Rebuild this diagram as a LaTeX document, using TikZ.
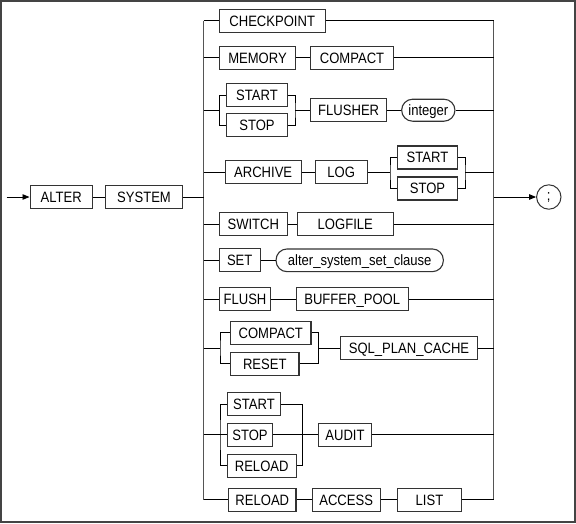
\documentclass[tikz,border=0pt]{standalone}
\usepackage{fontspec}
\setmainfont{Liberation Sans}[FakeStretch=0.87]
\usetikzlibrary{arrows.meta}
\definecolor{boxc}{HTML}{333333}
\definecolor{railc}{HTML}{555555}
\definecolor{borderc}{HTML}{444444}
\tikzset{
  kw/.style={draw=boxc, line width=1.1pt, rectangle, minimum height=23pt, inner sep=0pt,
    text height=10.7pt, text depth=0pt, font=\fontsize{15}{18}\selectfont},
  ph/.style={kw, rounded corners=11pt},
  ln/.style={draw=black, line width=0.9pt},
  rail/.style={draw=railc, line width=1.4pt},
  tip/.style={-{Triangle[length=7pt,width=5.5pt]}},
}
\begin{document}
\begin{tikzpicture}[x=1pt,y=-1pt]
\useasboundingbox (0,0) rectangle (576,523);
\draw[draw=borderc, line width=1.5pt] (1,1) rectangle (575,522);

\coordinate (L) at (203.5,0);
\coordinate (R) at (493.5,0);
\coordinate (start) at (6.7,197);

% main line
\node[kw, minimum width=62.3pt] (alter) at (61.2,197) {ALTER};
\node[kw, minimum width=77.4pt] (system) at (144,197) {SYSTEM};
\node[draw=boxc, line width=1pt, circle, minimum size=24.4pt, inner sep=0pt,
      font=\fontsize{15}{18}\selectfont] (semi) at (548.8,197) {;};

% row nodes
\node[kw, minimum width=105.7pt] (chk) at (272.2,20.8) {CHECKPOINT};
\node[kw, minimum width=76.4pt] (mem) at (257.5,57.8) {MEMORY};
\node[kw, minimum width=82.6pt] (cmp1) at (352,57.8) {COMPACT};
\node[kw, minimum width=60.6pt] (st1) at (257,95.3) {START};
\node[kw, minimum width=60.6pt] (sp1) at (257,125.3) {STOP};
\node[kw, minimum width=76pt] (flu) at (348.7,110.2) {FLUSHER};
\node[ph, minimum width=53.3pt, minimum height=22pt] (int) at (428.3,110.2) {integer};
\node[kw, minimum width=75.7pt] (arc) at (263.2,172) {ARCHIVE};
\node[kw, minimum width=52.3pt] (log) at (341.2,172) {LOG};
\node[kw, minimum width=60.4pt] (st2) at (427.5,157.5) {START};
\node[kw, minimum width=60.4pt] (sp2) at (427.5,188.5) {STOP};
\node[kw, minimum width=68pt] (sw) at (253.3,224) {SWITCH};
\node[kw, minimum width=96pt] (lgf) at (345.3,224) {LOGFILE};
\node[kw, minimum width=40.7pt] (set) at (239.7,260.3) {SET};
\node[ph, minimum width=167.3pt, minimum height=22.7pt] (cls) at (359.7,260.3) {alter\_system\_set\_clause};
\node[kw, minimum width=51.4pt] (fl) at (245,299.2) {FLUSH};
\node[kw, minimum width=112.3pt] (buf) at (352.2,299.2) {BUFFER\_POOL};
\node[kw, minimum width=80.3pt] (cmp2) at (270.8,332.8) {COMPACT};
\node[kw, minimum width=68.3pt] (rst) at (264.8,363.7) {RESET};
\node[kw, minimum width=136.6pt] (spc) at (409,348.3) {SQL\_PLAN\_CACHE};
\node[kw, minimum width=53.4pt] (st3) at (254,404.2) {START};
\node[kw, minimum width=45.4pt] (sp3) at (250,434.9) {STOP};
\node[kw, minimum width=68.7pt] (rl3) at (261.7,465.8) {RELOAD};
\node[kw, minimum width=53.4pt] (aud) at (345,434.9) {AUDIT};
\node[kw, minimum width=67.3pt] (rl4) at (262.3,499.8) {RELOAD};
\node[kw, minimum width=67.7pt] (acc) at (346.2,499.8) {ACCESS};
\node[kw, minimum width=64.4pt] (lst) at (429.5,499.8) {LIST};

% branch points
\coordinate (b3l) at (219.3,110.2);
\coordinate (b3r) at (295,110.2);
\coordinate (b4l) at (390,172);
\coordinate (b4r) at (465,172);
\coordinate (b8l) at (220,348.3);
\coordinate (b8r) at (318.3,348.3);
\coordinate (b9l) at (220,434.9);
\coordinate (b9r) at (302.7,434.9);

% rails
\draw[rail] (chk.west -| L) -- (rl4.west -| L);
\draw[rail] (chk.east -| R) -- (lst.east -| R);

% main
\draw[ln, tip] (start) -- (alter.west);
\draw[ln] (alter) -- (system);
\draw[ln] (system.east) -- (system.east -| L);
\draw[ln, tip] (system.east -| R) -- (semi.west);

% row 1
\draw[ln] (chk.west -| L) -- (chk.west);
\draw[ln] (chk.east) -- (chk.east -| R);
% row 2
\draw[ln] (mem.west -| L) -- (mem.west);
\draw[ln] (mem) -- (cmp1);
\draw[ln] (cmp1.east) -- (cmp1.east -| R);
% row 3
\draw[ln] (b3l -| L) -- (b3l);
\draw[ln] (st1.west) -| (b3l) |- (sp1.west);
\draw[ln] (st1.east) -| (b3r) |- (sp1.east);
\draw[ln] (b3r) -- (flu.west);
\draw[ln] (flu) -- (int);
\draw[ln] (int.east) -- (int.east -| R);
% row 4
\draw[ln] (arc.west -| L) -- (arc.west);
\draw[ln] (arc) -- (log);
\draw[ln] (log.east) -- (b4l);
\draw[ln] (st2.west) -| (b4l) |- (sp2.west);
\draw[ln] (st2.east) -| (b4r) |- (sp2.east);
\draw[ln] (b4r) -- (b4r -| R);
% row 5
\draw[ln] (sw.west -| L) -- (sw.west);
\draw[ln] (sw) -- (lgf);
\draw[ln] (lgf.east) -- (lgf.east -| R);
% row 6
\draw[ln] (set.west -| L) -- (set.west);
\draw[ln] (set) -- (cls);
% row 7
\draw[ln] (fl.west -| L) -- (fl.west);
\draw[ln] (fl) -- (buf);
\draw[ln] (buf.east) -- (buf.east -| R);
% row 8
\draw[ln] (b8l -| L) -- (b8l);
\draw[ln] (cmp2.west) -| (b8l) |- (rst.west);
\draw[ln] (cmp2.east) -| (b8r) |- (rst.east);
\draw[ln] (b8r) -- (spc.west);
\draw[ln] (spc.east) -- (spc.east -| R);
% row 9
\draw[ln] (b9l -| L) -- (sp3.west);
\draw[ln] (st3.west) -| (b9l) |- (rl3.west);
\draw[ln] (st3.east) -| (b9r) |- (rl3.east);
\draw[ln] (sp3.east) -- (aud.west);
\draw[ln] (aud.east) -- (aud.east -| R);
% row 10
\draw[ln] (rl4.west -| L) -- (rl4.west);
\draw[ln] (rl4) -- (acc);
\draw[ln] (acc) -- (lst);
\draw[ln] (lst.east) -- (lst.east -| R);
\end{tikzpicture}
\end{document}
